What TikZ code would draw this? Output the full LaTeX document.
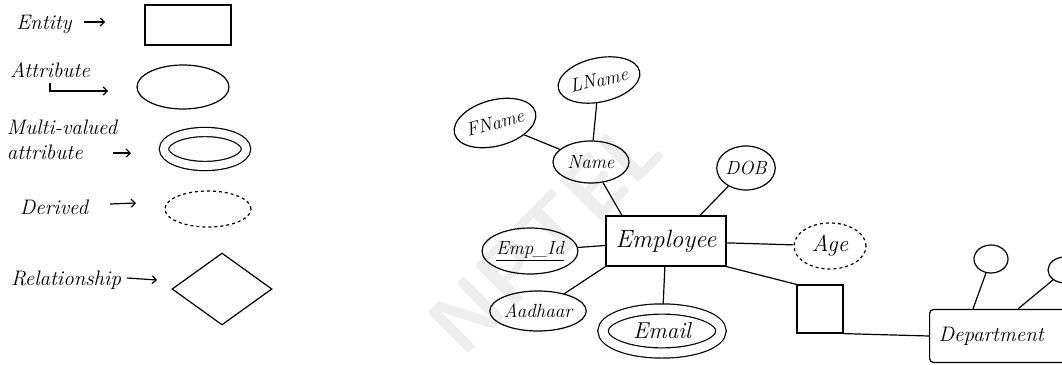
\documentclass[tikz,border=0pt]{standalone}
\usepackage{tikz}
\usetikzlibrary{shapes.geometric,arrows.meta}

\begin{document}
\begin{tikzpicture}
        [
        x=1pt,y=-1pt,
        entity/.style={rectangle,line width=1.2pt,draw,inner sep=0pt,font=\fontsize{25}{28}\selectfont\itshape},
        attr/.style={ellipse,line width=1.2pt,draw,inner sep=0pt,font=\fontsize{19}{22}\selectfont\itshape},
        big/.style={font=\fontsize{23}{26}\selectfont\itshape},
        multi/.style={attr,double,double distance=8pt,outer sep=5pt},
        derived/.style={attr,dashed},
        rel/.style={diamond,line width=1.2pt,draw,inner sep=0pt},
        legend/.style={font=\fontsize{21}{25}\selectfont\itshape},
        edge/.style={line width=1.2pt},
        legarrow/.style={line width=1.2pt,->,>={Straight Barb[length=4pt]}}
        ]
    \useasboundingbox (0,0) rectangle (1062,364);
    \clip (0,0) rectangle (1062,364);
    % watermark
    \node[rotate=45,text=gray!13,font=\fontsize{84}{84}\selectfont\sffamily\bfseries] (wm) at (545,236) {NPTEL};
    % legend
    \node[legend] (entlbl) at (44,24) {Entity};
    \node[entity,minimum width=86,minimum height=40] (entity) at (188,25) {};
    \node[legend] (attlbl) at (50,70) {Attribute};
    \node[attr,minimum width=92,minimum height=44] (attr) at (183,87) {};
    \node[legend,align=left] (multlbl) at (62,140) {Multi-valued\\attribute};
    \node[multi,minimum width=82,minimum height=34] (mult) at (205,149) {};
    \node[legend] (derlbl) at (54,207) {Derived};
    \node[derived,minimum width=86,minimum height=36] (der) at (208,209) {};
    \node[legend] (rellbl) at (66,280) {Relationship};
    \node[rel,minimum width=100,minimum height=72] (rel) at (222,289) {};
    \coordinate (entA) at (84,22);
    \coordinate (entB) at (105,22);
    \coordinate (attB) at (108,91);
    \coordinate (multA) at (113,153);
    \coordinate (multB) at (131,153);
    \coordinate (derA) at (110,204);
    \coordinate (derB) at (136,203);
    \coordinate (relA) at (127,278);
    \coordinate (relB) at (157,280);
    \draw[legarrow] (entA) -- (entB);
    \draw[legarrow] ([yshift=-2pt]attlbl.south) |- (attB);
    \draw[legarrow] (multA) -- (multB);
    \draw[legarrow] (derA) -- (derB);
    \draw[legarrow] (relA) -- (relB);
    % employee
    \node[attr,minimum width=76,minimum height=44,rotate=12] (lname) at (599,80) {LName};
    \node[attr,minimum width=68,minimum height=46,rotate=15] (fname) at (495,123) {FName};
    \node[attr,minimum width=76,minimum height=42] (name) at (591,162) {Name};
    \node[attr,minimum width=56,minimum height=44] (dob) at (746,168) {DOB};
    \node[entity,minimum width=120,minimum height=50] (emp) at (666,241) {Employee};
    \node[attr,minimum width=80,minimum height=46] (empid) at (530,251) {\underline{Emp\_Id}};
    \node[attr,minimum width=86,minimum height=40] (aadhaar) at (538,311) {Aadhaar};
    \node[multi,big,minimum width=118,minimum height=44,double distance=9pt] (email) at (662,331) {Email};
    \node[derived,big,minimum width=72,minimum height=46] (age) at (830,246) {Age};
    % relationship and department
    \node[entity,minimum width=46,minimum height=48] (works) at (820,309) {};
    \node[entity,font=\fontsize{21}{24}\selectfont\itshape,rounded corners=4pt,anchor=west,inner xsep=9pt,minimum height=53] (dept) at (929,336) {Department\hspace*{50pt}};
    \node[attr,minimum width=34,minimum height=28] (dattA) at (991,259) {};
    \node[attr,minimum width=34,minimum height=26] (dattB) at (1065,270) {};
    \draw[edge] (fname) -- (name);
    \draw[edge] (lname) -- (name);
    \draw[edge] (name) -- ([xshift=-44pt]emp.north);
    \draw[edge] (dob) -- ([xshift=34pt]emp.north);
    \draw[edge] (empid) -- (emp);
    \draw[edge] (aadhaar) -- (emp.south west);
    \draw[edge] (emp) -- (email);
    \draw[edge] (emp) -- (age);
    \draw[edge] (emp.south east) -- (works.north west);
    \draw[edge] (works.south east) -- (dept.west);
    \draw[edge] ([shift={(44pt,0pt)}]dept.north west) -- (dattA);
    \draw[edge] ([shift={(89pt,0pt)}]dept.north west) -- (dattB);
    \end{tikzpicture}
\end{document}
